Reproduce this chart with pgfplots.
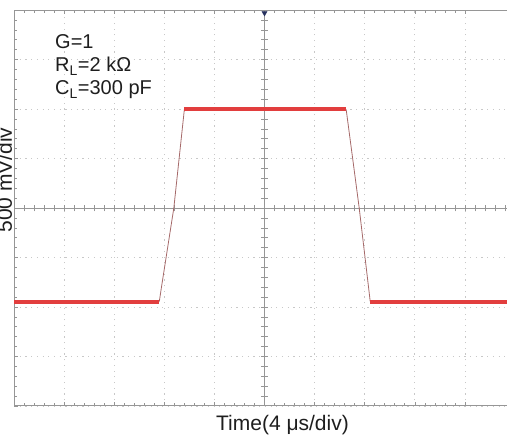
\documentclass[border=0pt]{standalone}
\usepackage{pgfplots}
\pgfplotsset{compat=1.18}
\usepackage{fontspec}
\setmainfont{Liberation Sans}
\definecolor{trace}{RGB}{226,62,62}
\definecolor{edge}{RGB}{165,105,105}
\definecolor{gridc}{RGB}{200,200,200}
\definecolor{framec}{RGB}{150,150,150}
\definecolor{trig}{RGB}{40,50,95}
\definecolor{txt}{RGB}{30,30,30}
\begin{document}
\begin{tikzpicture}
\begin{axis}[
  at={(0,0)}, anchor=south west,
  scale only axis, width=493pt, height=396pt,
  xmin=-5, xmax=4.84, ymin=-4, ymax=4,
  xtick={-5,...,4}, ytick={-4,...,4},
  xticklabels={}, yticklabels={},
  minor x tick num=4, minor y tick num=4,
  grid=major,
  major grid style={gridc, dash pattern=on 1.2pt off 4.5pt, line width=0.8pt},
  tick align=inside, major tick length=4pt, minor tick length=3pt,
  tick style={framec, line width=0.6pt},
  ytick pos=left,
  axis line style={draw=none},
  clip=false,
]
% centre cross
\draw[framec, line width=0.7pt] (axis cs:0,-4) -- (axis cs:0,4);
\draw[framec, line width=0.7pt] (axis cs:-5,0) -- (axis cs:4.84,0);
\pgfplotsinvokeforeach{-24,...,24}{
  \draw[framec, line width=0.6pt] (axis cs:#1/5,-0.07) -- (axis cs:#1/5,0.07);
}
\pgfplotsinvokeforeach{-19,...,19}{
  \draw[framec, line width=0.6pt] (axis cs:-0.07,#1/5) -- (axis cs:0.07,#1/5);
}
% frame
\draw[framec, line width=1pt] (axis cs:4.84,4) -- (axis cs:-5,4) -- (axis cs:-5,-4) -- (axis cs:4.84,-4);
% trace edges
\addplot[edge, line width=0.8pt] coordinates {(-2.10,-1.89) (-2.06,-1.62) (-1.81,0) (-1.60,1.99)};
\addplot[edge, line width=0.8pt] coordinates {(1.63,1.99) (1.89,0) (2.11,-1.89)};
% flat parts
\addplot[trace, line width=4pt] coordinates {(-5,-1.89) (-2.10,-1.89)};
\addplot[trace, line width=4pt] coordinates {(-1.60,1.99) (1.63,1.99)};
\addplot[trace, line width=4pt] coordinates {(2.11,-1.89) (4.84,-1.89)};
% trigger marker
\addplot[only marks, mark=triangle*, mark size=3pt, mark options={rotate=180, fill=trig, draw=trig}] coordinates {(0,3.94)};
\end{axis}
\node[anchor=base west, text=txt, inner sep=0pt, font=\fontsize{20}{20}\selectfont] at (41pt,357pt) {G=1};
\node[anchor=base west, text=txt, inner sep=0pt, font=\fontsize{20}{20}\selectfont] at (41pt,334pt) {R\textsubscript{L}=2 kΩ};
\node[anchor=base west, text=txt, inner sep=0pt, font=\fontsize{20}{20}\selectfont] at (41pt,311pt) {C\textsubscript{L}=300 pF};
\node[anchor=base, text=txt, inner sep=0pt, font=\fontsize{21}{21}\selectfont] at (268.5pt,-25pt) {Time(4 μs/div)};
\node[rotate=90, anchor=base, text=txt, inner sep=0pt, font=\fontsize{21}{21}\selectfont] at (-2pt,226pt) {500 mV/div};
\pgfresetboundingbox
\path (-14pt,-31pt) rectangle (493pt,406pt);
\end{tikzpicture}
\end{document}
